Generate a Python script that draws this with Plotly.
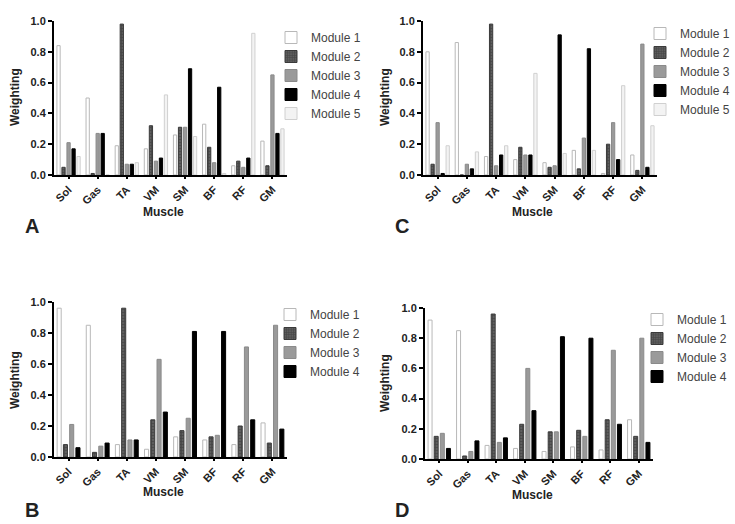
import plotly.graph_objects as go

muscles = ["Sol", "Gas", "TA", "VM", "SM", "BF", "RF", "GM"]

# Panel A (5 modules)
A_m1 = [0.84, 0.50, 0.19, 0.17, 0.26, 0.33, 0.06, 0.22]
A_m2 = [0.05, 0.01, 0.98, 0.32, 0.31, 0.18, 0.09, 0.06]
A_m3 = [0.21, 0.27, 0.07, 0.09, 0.31, 0.08, 0.05, 0.65]
A_m4 = [0.17, 0.27, 0.07, 0.11, 0.69, 0.57, 0.11, 0.27]
A_m5 = [0.12, 0.00, 0.08, 0.52, 0.25, 0.01, 0.92, 0.30]

# Panel C (5 modules)
C_m1 = [0.80, 0.86, 0.12, 0.10, 0.08, 0.16, 0.01, 0.13]
C_m2 = [0.07, 0.00, 0.98, 0.18, 0.05, 0.04, 0.20, 0.03]
C_m3 = [0.34, 0.07, 0.06, 0.13, 0.06, 0.24, 0.34, 0.85]
C_m4 = [0.01, 0.04, 0.13, 0.13, 0.91, 0.82, 0.10, 0.05]
C_m5 = [0.19, 0.15, 0.19, 0.66, 0.14, 0.16, 0.58, 0.32]

# Panel B (4 modules)
B_m1 = [0.96, 0.85, 0.08, 0.05, 0.13, 0.11, 0.08, 0.22]
B_m2 = [0.08, 0.03, 0.96, 0.24, 0.17, 0.13, 0.20, 0.09]
B_m3 = [0.21, 0.07, 0.11, 0.63, 0.25, 0.14, 0.71, 0.85]
B_m4 = [0.06, 0.09, 0.11, 0.29, 0.81, 0.81, 0.24, 0.18]

# Panel D (4 modules)
D_m1 = [0.92, 0.85, 0.09, 0.07, 0.05, 0.08, 0.06, 0.26]
D_m2 = [0.15, 0.02, 0.96, 0.23, 0.18, 0.19, 0.26, 0.15]
D_m3 = [0.17, 0.05, 0.11, 0.60, 0.18, 0.15, 0.72, 0.80]
D_m4 = [0.07, 0.12, 0.14, 0.32, 0.81, 0.80, 0.23, 0.11]

module_names = ["Module 1", "Module 2", "Module 3", "Module 4", "Module 5"]

styles = [
    dict(color="white", line=dict(color="#b8b8b8", width=1)),
    dict(color="#5e5e5e", line=dict(color="#3a3a3a", width=1),
         pattern=dict(shape="+", fgcolor="#2a2a2a", size=3, solidity=0.4)),
    dict(color="#9a9a9a", line=dict(color="#8a8a8a", width=1)),
    dict(color="black", line=dict(color="black", width=1)),
    dict(color="#f3f3f3", line=dict(color="#d0d0d0", width=1)),
]

panels = [
    ("A", [A_m1, A_m2, A_m3, A_m4, A_m5], "x", "y", "legend"),
    ("C", [C_m1, C_m2, C_m3, C_m4, C_m5], "x2", "y2", "legend2"),
    ("B", [B_m1, B_m2, B_m3, B_m4], "x3", "y3", "legend3"),
    ("D", [D_m1, D_m2, D_m3, D_m4], "x4", "y4", "legend4"),
]

fig = go.Figure()
for label, series, xa, ya, lg in panels:
    for i, vals in enumerate(series):
        fig.add_trace(go.Bar(
            x=muscles, y=vals, name=module_names[i],
            marker=styles[i], xaxis=xa, yaxis=ya, legend=lg,
        ))

W, H = 735, 524
def px(x):
    return x / W
def py(y):
    return 1 - y / H

font_bold = "Liberation Sans, Arial, sans-serif"

domains = {
    "1": dict(x=[px(54), px(287)], y=[py(175), py(21)]),
    "2": dict(x=[px(423), px(657)], y=[py(175), py(21)]),
    "3": dict(x=[px(54), px(287)], y=[py(457), py(302)]),
    "4": dict(x=[px(425), px(653)], y=[py(459), py(308)]),
}

layout = dict(
    width=W, height=H,
    margin=dict(l=0, r=0, t=0, b=0, autoexpand=False),
    paper_bgcolor="white", plot_bgcolor="white",
    barmode="group", bargap=0.14, bargroupgap=0.35,
    font=dict(family=font_bold, color="#222"),
    showlegend=True,
)

for k, d in domains.items():
    xs = "xaxis" if k == "1" else "xaxis" + k
    ys = "yaxis" if k == "1" else "yaxis" + k
    xid = "x" if k == "1" else "x" + k
    yid = "y" if k == "1" else "y" + k
    layout[xs] = dict(
        domain=d["x"], anchor=yid, showline=True, linecolor="black", linewidth=2,
        ticks="outside", ticklen=2, tickwidth=1.5, tickcolor="black", automargin=False,
        tickangle=-45, tickfont=dict(family=font_bold, size=11, color="#222", weight="bold"),
        showgrid=False, zeroline=False,
    )
    layout[ys] = dict(
        domain=d["y"], anchor=xid, range=[0, 1.0], showline=True, linecolor="black",
        linewidth=2, ticks="outside", ticklen=4, tickwidth=1.5, tickcolor="black",
        tickvals=[0, 0.2, 0.4, 0.6, 0.8, 1.0], tickformat=".1f", automargin=False,
        tickfont=dict(family=font_bold, size=11, color="#222", weight="bold"),
        showgrid=False, zeroline=False,
    )

legend_common = dict(
    font=dict(family=font_bold, size=12, color="#444"),
    bgcolor="rgba(0,0,0,0)", itemwidth=30, tracegroupgap=0,
    xanchor="left", yanchor="top",
)
layout["legend"] = dict(x=px(271), y=py(23), **legend_common)
layout["legend2"] = dict(x=px(640), y=py(19), **legend_common)
layout["legend3"] = dict(x=px(270), y=py(300), **legend_common)
layout["legend4"] = dict(x=px(637), y=py(305), **legend_common)

ann = []
def add_text(text, x, y, size, angle=0, bold=True, color="#222"):
    ann.append(dict(text=text, x=px(x), y=py(y), xref="paper", yref="paper",
                    showarrow=False, textangle=angle,
                    font=dict(family=font_bold, size=size, color=color,
                              weight="bold" if bold else "normal"),
                    xanchor="center", yanchor="middle"))

add_text("Weighting", 15, 97, 12, angle=-90)
add_text("Weighting", 385, 97, 12, angle=-90)
add_text("Weighting", 15, 380, 12, angle=-90)
add_text("Weighting", 385, 383, 12, angle=-90)
add_text("Muscle", 163, 212, 12)
add_text("Muscle", 532, 212, 12)
add_text("Muscle", 163, 492, 12)
add_text("Muscle", 532, 495, 12)
add_text("A", 32, 226, 20)
add_text("C", 402, 226, 20)
add_text("B", 32, 510, 20)
add_text("D", 402, 510, 20)
layout["annotations"] = ann

fig.update_layout(**layout)
fig.write_html("out.html", config={"displayModeBar": False},
               post_script="document.body.style.margin='0';document.body.style.overflow='hidden';")
